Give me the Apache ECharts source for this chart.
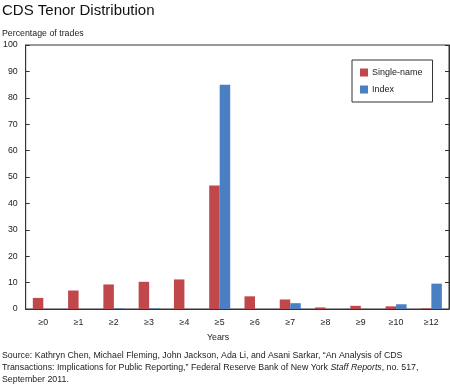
<!DOCTYPE html>
<html><head><meta charset="utf-8">
<script src="https://cdn.jsdelivr.net/npm/echarts@6/dist/echarts.min.js"></script>
<style>html,body{margin:0;padding:0;background:#fff}#c{width:450px;height:391px}</style>
</head><body><div id="c"></div>
<script>
const categories = ['≥0','≥1','≥2','≥3','≥4','≥5','≥6','≥7','≥8','≥9','≥10','≥12'];
const singleName = [4.2, 7.0, 9.3, 10.3, 11.2, 46.8, 4.8, 3.6, 0.6, 1.2, 1.0, 0.2];
const indexVals = [0, 0, 0.2, 0.2, 0, 84.9, 0, 2.2, 0, 0, 1.8, 9.6];
const yTicks = [0,10,20,30,40,50,60,70,80,90,100];

const FONT = '"Liberation Sans", Arial, sans-serif';
const TXT = '#222';
const chart = echarts.init(document.getElementById('c'));
chart.setOption({
  animation: false,
  textStyle: {fontFamily: FONT},
  title: [
    {text: 'CDS Tenor Distribution', left: 2, top: 3, padding: 0, textStyle: {fontFamily: FONT, fontSize: 15, fontWeight: 'normal', color: '#111'}},
    {text: 'Percentage of trades', left: 2, top: 29, padding: 0, textStyle: {fontFamily: FONT, fontSize: 8.8, fontWeight: 'normal', color: TXT}},
    {text: 'Years', left: 207, top: 333, padding: 0, textStyle: {fontFamily: FONT, fontSize: 8.8, fontWeight: 'normal', color: TXT}},
    {text: '{n|Source: Kathryn Chen, Michael Fleming, John Jackson, Ada Li, and Asani Sarkar, “An Analysis of CDS}\n{n|Transactions: Implications for Public Reporting,” Federal Reserve Bank of New York }{i|Staff Reports}{n|, no. 517,}\n{n|September 2011.}',
     left: 2, top: 350, padding: 0,
     textStyle: {fontFamily: FONT, fontSize: 8.8, fontWeight: 'normal', color: TXT, lineHeight: 12,
       rich: {n: {fontFamily: FONT, fontSize: 8.8, color: TXT, lineHeight: 12}, i: {fontFamily: FONT, fontSize: 8.8, color: TXT, fontStyle: 'italic', lineHeight: 12}}}}
  ],
  legend: {
    orient: 'vertical', left: 352, top: 60,
    padding: [8, 10, 8, 8],
    itemWidth: 8, itemHeight: 8, itemGap: 8,
    borderColor: '#333', borderWidth: 1,
    icon: 'rect',
    textStyle: {fontFamily: FONT, fontSize: 9, color: TXT, padding: [0, 0, 0, -1]},
    data: ['Single-name', 'Index']
  },
  grid: {left: 23, right: 1, top: 45, bottom: 82, show: true, borderColor: '#333', borderWidth: 1, backgroundColor: 'transparent'},
  xAxis: {
    type: 'category', data: categories,
    axisLine: {lineStyle: {color: '#333'}},
    axisTick: {inside: true, length: 4, lineStyle: {color: '#333'}, interval: function (i) { return i > 0 && i < 12 && i % 2 === 0; }},
    axisLabel: {fontFamily: FONT, fontSize: 8.8, color: TXT, margin: 9}
  },
  yAxis: [
    {type: 'value', min: 0, max: 100, interval: 10,
     axisLine: {show: true, lineStyle: {color: '#333'}},
     axisTick: {show: true, inside: true, length: 4, lineStyle: {color: '#333'}},
     axisLabel: {fontFamily: FONT, fontSize: 8.8, color: TXT, margin: 8, formatter: function (v) { return yTicks.indexOf(v) >= 0 ? String(v) : ''; }},
     splitLine: {show: false}},
    {type: 'value', min: 0, max: 100, interval: 10, position: 'right',
     axisLine: {show: true, lineStyle: {color: '#333'}},
     axisTick: {show: true, inside: true, length: 4, lineStyle: {color: '#333'}},
     axisLabel: {show: false}, splitLine: {show: false}}
  ],
  series: [
    {name: 'Single-name', type: 'bar', data: singleName, barWidth: 10.5, barGap: '0%', itemStyle: {color: '#C0474A'}},
    {name: 'Index', type: 'bar', data: indexVals, barWidth: 10.5, barGap: '0%', itemStyle: {color: '#4A7FC4'}}
  ]
});
</script></body></html>
